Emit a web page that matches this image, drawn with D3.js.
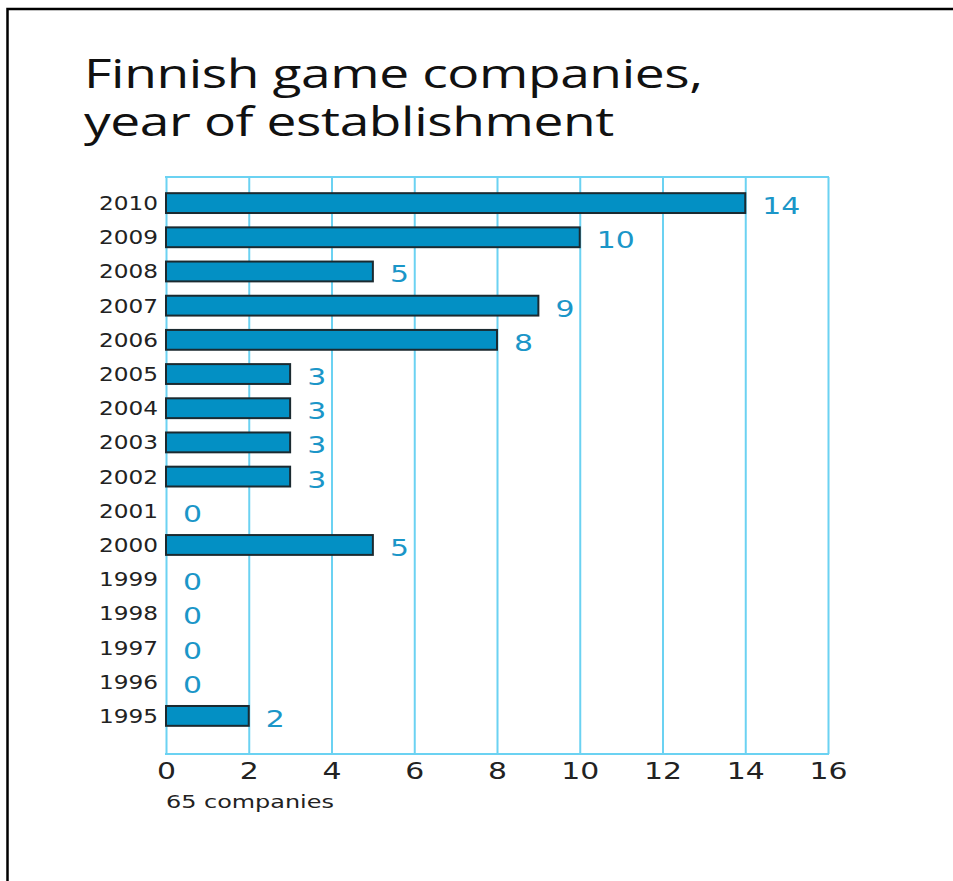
<!DOCTYPE html>
<html>
<head>
<meta charset="utf-8">
<style>
    body { margin: 0; background: #fff; }
    svg { display: block; }
    .title { font-family: 'Open Sans', sans-serif; font-size: 41px; fill: #111; letter-spacing: -0.3px; }
    .year { font-family: 'DejaVu Sans', sans-serif; font-size: 20px; fill: #222; }
    .x .tick text { font-family: 'DejaVu Sans', sans-serif; font-size: 23px; fill: #222; }
    .x .tick line { stroke: #6bd2f2; stroke-width: 2px; }
    .x .domain { display: none; }
    .val { font-family: 'DejaVu Sans', sans-serif; font-size: 23px; fill: #1b96c8; }
    .note { font-family: 'DejaVu Sans', sans-serif; font-size: 18px; fill: #222; }
</style>
</head>
<body>
<svg width="953" height="881"></svg>
<script src="https://d3js.org/d3.v7.min.js"></script>
<script>
    // data
    let years = ["2010", "2009", "2008", "2007", "2006", "2005", "2004", "2003",
                 "2002", "2001", "2000", "1999", "1998", "1997", "1996", "1995"]
    let counts = [14, 10, 5, 9, 8, 3, 3, 3, 3, 0, 5, 0, 0, 0, 0, 2]
    let xTicks = [0, 2, 4, 6, 8, 10, 12, 14, 16]

    let data = years.map((y, i) => ({ year: y, n: counts[i] }))

    let svg = d3.select("svg")

    // the scan is stretched sideways, so all type gets a wider x scale
    let wide = 1.3

    // frame, cut off at right and bottom like the scan
    svg.append("rect")
        .attr("x", 7.5).attr("y", 9)
        .attr("width", 1000).attr("height", 1000)
        .attr("fill", "none")
        .attr("stroke", "#000")
        .attr("stroke-width", 2.5)

    let title = svg.append("text").attr("class", "title")
        .attr("transform", `translate(84,88) scale(${wide},1)`)
    title.append("tspan").attr("x", 0).attr("y", 0).text("Finnish game companies,")
    title.append("tspan").attr("x", 0).attr("y", 48).text("year of establishment")

    let plot = { left: 166, right: 828, top: 177, bottom: 754 }

    let x = d3.scaleLinear()
        .domain([0, 16])
        .range([plot.left, plot.right])

    let y = d3.scaleBand()
        .domain(years)
        .range([186, 733])
        .paddingInner(0.42)
        .paddingOuter(0.21)

    // grid + axis
    svg.append("g")
        .attr("class", "x axis")
        .attr("transform", `translate(0,${plot.bottom})`)
        .call(d3.axisBottom(x).tickValues(xTicks).tickSize(-(plot.bottom - plot.top)).tickPadding(9))
        .call(g => g.selectAll(".tick text").attr("transform", `scale(${wide},1)`))

    svg.append("line")
        .attr("x1", plot.left - 1).attr("x2", plot.right + 1)
        .attr("y1", plot.top).attr("y2", plot.top)
        .attr("stroke", "#6bd2f2").attr("stroke-width", 2)
    svg.append("line")
        .attr("x1", plot.left - 1).attr("x2", plot.right + 1)
        .attr("y1", plot.bottom).attr("y2", plot.bottom)
        .attr("stroke", "#6bd2f2").attr("stroke-width", 2)

    // bars
    svg.append("g")
        .selectAll("rect")
        .data(data.filter(d => d.n > 0))
        .join("rect")
        .attr("x", x(0))
        .attr("y", d => y(d.year))
        .attr("width", d => x(d.n) - x(0))
        .attr("height", y.bandwidth())
        .attr("fill", "#0390c4")
        .attr("stroke", "#1b2a30")
        .attr("stroke-width", 2)

    // year labels
    svg.append("g")
        .selectAll("text")
        .data(data)
        .join("text")
        .attr("class", "year")
        .attr("transform", d => `translate(158,${y(d.year) + y.bandwidth() / 2 + 7}) scale(1.16,1)`)
        .attr("text-anchor", "end")
        .text(d => d.year)

    // value labels
    svg.append("g")
        .selectAll("text")
        .data(data)
        .join("text")
        .attr("class", "val")
        .attr("transform", d => `translate(${x(d.n) + 17},${y(d.year) + y.bandwidth() / 2 + 11}) scale(${wide},1)`)
        .text(d => d.n)

    svg.append("text").attr("class", "note")
        .attr("transform", "translate(166,808) scale(1.33,1)")
        .text("65 companies")
</script>
</body>
</html>
